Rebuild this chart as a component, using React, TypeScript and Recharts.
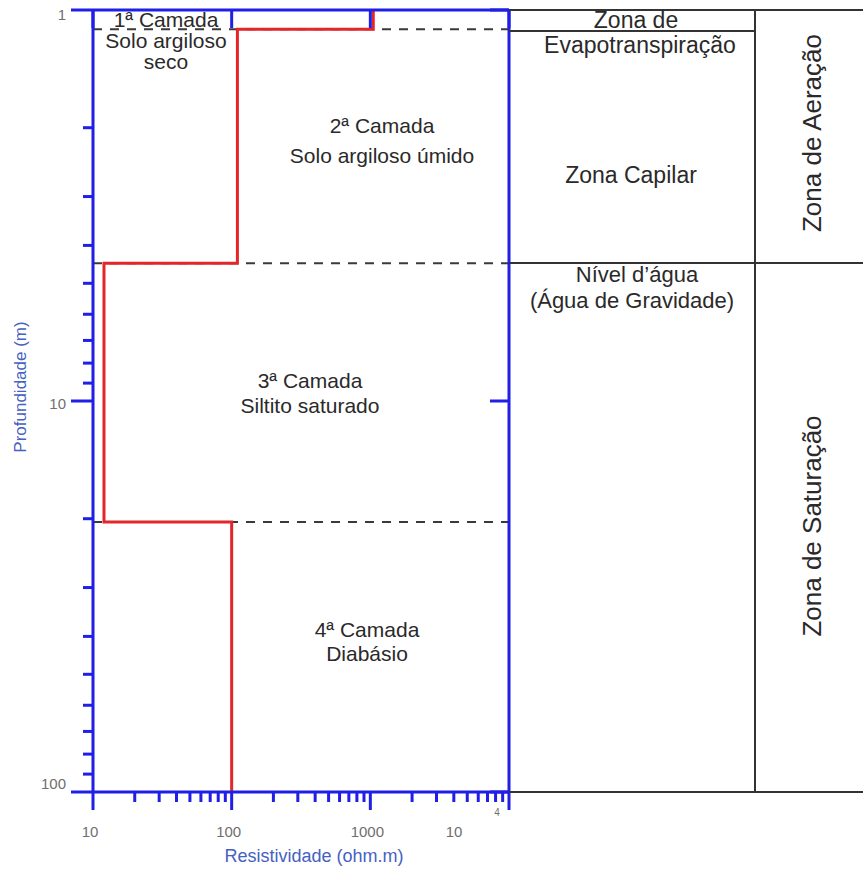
import React from 'react';
import { LineChart, Line, XAxis, YAxis, ReferenceLine } from 'recharts';

// resistivity (ohm.m) of each layer, top to bottom
const layerResistivity = [1050, 110, 12, 100];
// layer boundaries (m): top of layer 1 ... base of layer 4
const layerBoundaries = [1, 1.12, 4.44, 20.4, 100];
const layerTitles = ['1ª Camada', '2ª Camada', '3ª Camada', '4ª Camada'];
const layerMaterials = [['Solo argiloso', 'seco'], ['Solo argiloso úmido'], ['Siltito saturado'], ['Diabásio']];

const depthTicks = [1, 2, 3, 4, 5, 6, 7, 8, 9, 10, 20, 30, 40, 50, 60, 70, 80, 90, 100];
const resistivityTicks = [
  10, 20, 30, 40, 50, 60, 70, 80, 90,
  100, 200, 300, 400, 500, 600, 700, 800, 900,
  1000, 2000, 3000, 4000, 5000, 6000, 7000, 8000, 9000, 10000,
];
const majorTicks = [1, 10, 100, 1000, 10000];

const BLUE = '#1f1fe6';
const RED = '#e2262a';
const GREY = '#6f6f6f';
const TITLE = '#4561c2';
const INK = '#2a2a2a';
const FONT = '"Liberation Sans", Arial, sans-serif';

// step curve built from the layer model
const stepData = layerResistivity.flatMap((res, i) => [
  { res, depth: layerBoundaries[i] },
  { res, depth: layerBoundaries[i + 1] },
]);

const isMajor = (v: number) => majorTicks.includes(v);

const LeftTick = (props: any) => {
  const { x, y, payload } = props;
  const v = payload.value;
  const major = isMajor(v);
  const dy = v === 1 ? 10 : v === 100 ? -3 : 8;
  return (
    <g>
      <line x1={x - (major ? 22 : 10)} y1={y} x2={x} y2={y} stroke={BLUE} strokeWidth={3} />
      {major && (
        <text x={x - 27} y={y + dy} textAnchor="end" fontSize={15} fill={GREY} fontFamily={FONT}>
          {v}
        </text>
      )}
    </g>
  );
};

const BottomTick = (props: any) => {
  const { x, y, payload } = props;
  const v = payload.value;
  const major = isMajor(v);
  return (
    <g>
      <line x1={x} y1={y} x2={x} y2={y + (major ? 18 : 10)} stroke={BLUE} strokeWidth={3} />
      {major && v < 10000 && (
        <text x={x - 3} y={y + 45} textAnchor="middle" fontSize={15} fill={GREY} fontFamily={FONT}>
          {v}
        </text>
      )}
      {v === 10000 && (
        <g fontFamily={FONT} fill={GREY}>
          <text x={x - 55} y={y + 45} textAnchor="middle" fontSize={15}>10</text>
          <text x={x - 12} y={y + 24} textAnchor="middle" fontSize={10}>4</text>
        </g>
      )}
    </g>
  );
};

const TopTick = (props: any) => {
  const { x, y } = props;
  return <line x1={x} y1={y} x2={x} y2={y + 18} stroke={BLUE} strokeWidth={3} />;
};

const RightTick = (props: any) => {
  const { x, y } = props;
  return <line x1={x - 19} y1={y} x2={x} y2={y} stroke={BLUE} strokeWidth={3} />;
};

// label placement (px) for each layer: centre x, baseline of first line, line step
const layerLabelPos = [
  { x: 166, y: 27, step: 21 },
  { x: 382, y: 133, step: 30 },
  { x: 310, y: 388, step: 25 },
  { x: 367, y: 637, step: 24 },
];

const Annotations = () => (
  <svg
    width={863}
    height={870}
    style={{ position: 'absolute', left: 0, top: 0, pointerEvents: 'none' }}
    fontFamily={FONT}
  >
    {layerTitles.map((t, i) => {
      const p = layerLabelPos[i];
      return (
        <text key={t} x={p.x} y={p.y} textAnchor="middle" fontSize={21} fill={INK}>
          <tspan x={p.x}>{t}</tspan>
          {layerMaterials[i].map((m, j) => (
            <tspan key={m} x={p.x} y={p.y + p.step * (j + 1)}>{m}</tspan>
          ))}
        </text>
      );
    })}

    {/* hydro zones table */}
    <g stroke="#333" strokeWidth={2}>
      <line x1={509} y1={10} x2={863} y2={10} />
      <line x1={509} y1={31} x2={755} y2={31} />
      <line x1={509} y1={263} x2={863} y2={263} />
      <line x1={509} y1={792} x2={863} y2={792} />
      <line x1={755} y1={10} x2={755} y2={792} />
    </g>
    <g fontSize={23} fill={INK} textAnchor="middle">
      <text x={636} y={28}>Zona de</text>
      <text x={640} y={53}>Evapotranspiração</text>
      <text x={631} y={183}>Zona Capilar</text>
    </g>
    <g fontSize={22} fill={INK} textAnchor="middle">
      <text x={637} y={282}>Nível d’água</text>
      <text x={632} y={308}>(Água de Gravidade)</text>
    </g>
    <g fontSize={26} fill={INK} textAnchor="middle">
      <text x={812} y={133} transform="rotate(-90 812 133)" dominantBaseline="central">Zona de Aeração</text>
      <text x={812} y={526} transform="rotate(-90 812 526)" dominantBaseline="central">Zona de Saturação</text>
    </g>

    <text x={314} y={862} textAnchor="middle" fontSize={18} fill={TITLE}>Resistividade (ohm.m)</text>
    <text x={20} y={387} transform="rotate(-90 20 387)" textAnchor="middle" dominantBaseline="central" fontSize={17} fill={TITLE}>
      Profundidade (m)
    </text>
  </svg>
);

export default function App() {
  return (
    <div style={{ position: 'absolute', left: 0, top: 0, width: 863, height: 870, background: '#fff' }}>
      <LineChart width={863} height={870} data={stepData} margin={{ top: 0, right: 344, bottom: 0, left: 0 }}>
        <XAxis
          xAxisId="bottom"
          type="number"
          dataKey="res"
          scale="log"
          domain={[10, 10000]}
          allowDataOverflow
          ticks={resistivityTicks}
          interval={0}
          tick={<BottomTick />}
          tickLine={false}
          tickSize={0}
          tickMargin={0}
          axisLine={{ stroke: BLUE, strokeWidth: 3 }}
          height={78}
        />
        <XAxis
          xAxisId="top"
          orientation="top"
          type="number"
          dataKey="res"
          scale="log"
          domain={[10, 10000]}
          allowDataOverflow
          ticks={[10, 100, 1000, 10000]}
          interval={0}
          tick={<TopTick />}
          tickLine={false}
          tickSize={0}
          tickMargin={0}
          axisLine={{ stroke: BLUE, strokeWidth: 3 }}
          height={10}
        />
        <YAxis
          yAxisId="left"
          type="number"
          dataKey="depth"
          scale="log"
          domain={[1, 100]}
          allowDataOverflow
          reversed
          ticks={depthTicks}
          interval={0}
          tick={<LeftTick />}
          tickLine={false}
          tickSize={0}
          tickMargin={0}
          axisLine={{ stroke: BLUE, strokeWidth: 3 }}
          width={93}
        />
        <YAxis
          yAxisId="right"
          orientation="right"
          type="number"
          dataKey="depth"
          scale="log"
          domain={[1, 100]}
          allowDataOverflow
          reversed
          ticks={[1, 10, 100]}
          interval={0}
          tick={<RightTick />}
          tickLine={false}
          tickSize={0}
          tickMargin={0}
          axisLine={{ stroke: BLUE, strokeWidth: 3 }}
          width={10}
        />
        {layerBoundaries.slice(1, -1).map((d) => (
          <ReferenceLine
            key={d}
            y={d}
            xAxisId="bottom"
            yAxisId="left"
            stroke="#3a3a3a"
            strokeWidth={2}
            strokeDasharray="9 8"
          />
        ))}
        <Line
          xAxisId="bottom"
          yAxisId="left"
          dataKey="depth"
          type="linear"
          stroke={RED}
          strokeWidth={3}
          dot={false}
          isAnimationActive={false}
        />
      </LineChart>
      <Annotations />
    </div>
  );
}
